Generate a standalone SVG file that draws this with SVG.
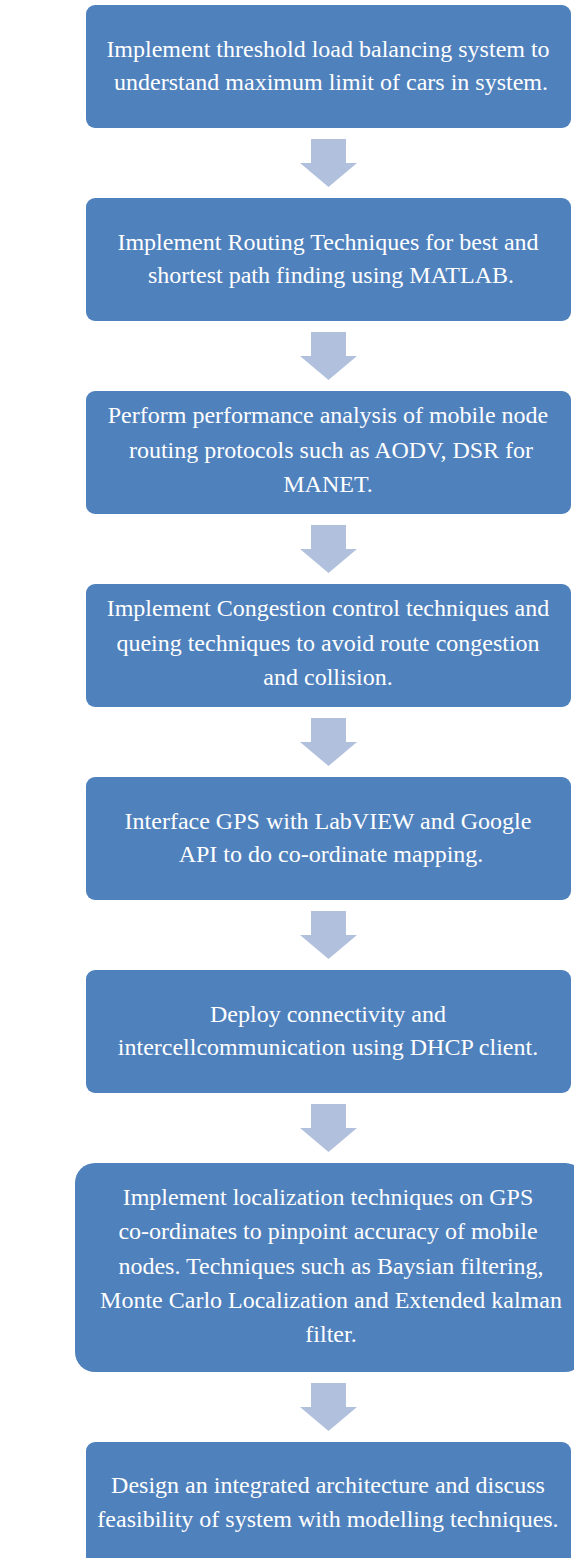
<svg xmlns="http://www.w3.org/2000/svg" width="574" height="1558" viewBox="0 0 574 1558">
<style>
.box{fill:#4F81BD;}
.arr{fill:#B1C1DD;}
.t{font-family:'Liberation Serif', Tinos, 'Times New Roman', Times, serif;font-size:24px;fill:#FFFFFF;text-anchor:middle;}
</style>
<rect width="574" height="1558" fill="#FFFFFF"/>
<g id="connectors">
<polygon class="arr" points="311,139 346,139 346,163 357,163 328.5,187 300,163 311,163"/>
<polygon class="arr" points="311,332 346,332 346,356 357,356 328.5,380 300,356 311,356"/>
<polygon class="arr" points="311,525 346,525 346,549 357,549 328.5,573 300,549 311,549"/>
<polygon class="arr" points="311,718 346,718 346,742 357,742 328.5,766 300,742 311,742"/>
<polygon class="arr" points="311,911 346,911 346,935 357,935 328.5,959 300,935 311,935"/>
<polygon class="arr" points="311,1104 346,1104 346,1128 357,1128 328.5,1152 300,1128 311,1128"/>
<polygon class="arr" points="311,1383 346,1383 346,1407 357,1407 328.5,1431 300,1407 311,1407"/>
</g>
<g id="n1">
<rect class="box" x="86" y="5" width="485" height="123" rx="9"/>
<text class="t" x="328" y="57">Implement threshold load balancing system to</text>
<text class="t" x="331" y="90">understand maximum limit of cars in system.</text>
</g>
<g id="n2">
<rect class="box" x="86" y="198" width="485" height="123" rx="9"/>
<text class="t" x="328" y="250">Implement Routing Techniques for best and</text>
<text class="t" x="331" y="283">shortest path finding using MATLAB.</text>
</g>
<g id="n3">
<rect class="box" x="86" y="391" width="485" height="123" rx="9"/>
<text class="t" x="328" y="423">Perform performance analysis of mobile node</text>
<text class="t" x="331" y="458">routing protocols such as AODV, DSR for</text>
<text class="t" x="328" y="492">MANET.</text>
</g>
<g id="n4">
<rect class="box" x="86" y="584" width="485" height="123" rx="9"/>
<text class="t" x="328" y="616">Implement Congestion control techniques and</text>
<text class="t" x="328" y="651">queing techniques to avoid route congestion</text>
<text class="t" x="328" y="685">and collision.</text>
</g>
<g id="n5">
<rect class="box" x="86" y="777" width="485" height="123" rx="9"/>
<text class="t" x="328" y="829">Interface GPS with LabVIEW and Google</text>
<text class="t" x="331" y="862">API to do co-ordinate mapping.</text>
</g>
<g id="n6">
<rect class="box" x="86" y="970" width="485" height="123" rx="9"/>
<text class="t" x="328" y="1022">Deploy connectivity and</text>
<text class="t" x="328" y="1055">intercellcommunication using DHCP client.</text>
</g>
<g id="n7">
<rect class="box" x="75" y="1163" width="510" height="209" rx="20"/>
<text class="t" x="328" y="1205">Implement localization techniques on GPS</text>
<text class="t" x="328" y="1239">co-ordinates to pinpoint accuracy of mobile</text>
<text class="t" x="331" y="1274">nodes. Techniques such as Baysian filtering,</text>
<text class="t" x="331" y="1308">Monte Carlo Localization and Extended kalman</text>
<text class="t" x="331" y="1342">filter.</text>
</g>
<g id="n8">
<rect class="box" x="86" y="1442" width="485" height="140" rx="9"/>
<text class="t" x="328" y="1493">Design an integrated architecture and discuss</text>
<text class="t" x="328" y="1527">feasibility of system with modelling techniques.</text>
</g>
</svg>
